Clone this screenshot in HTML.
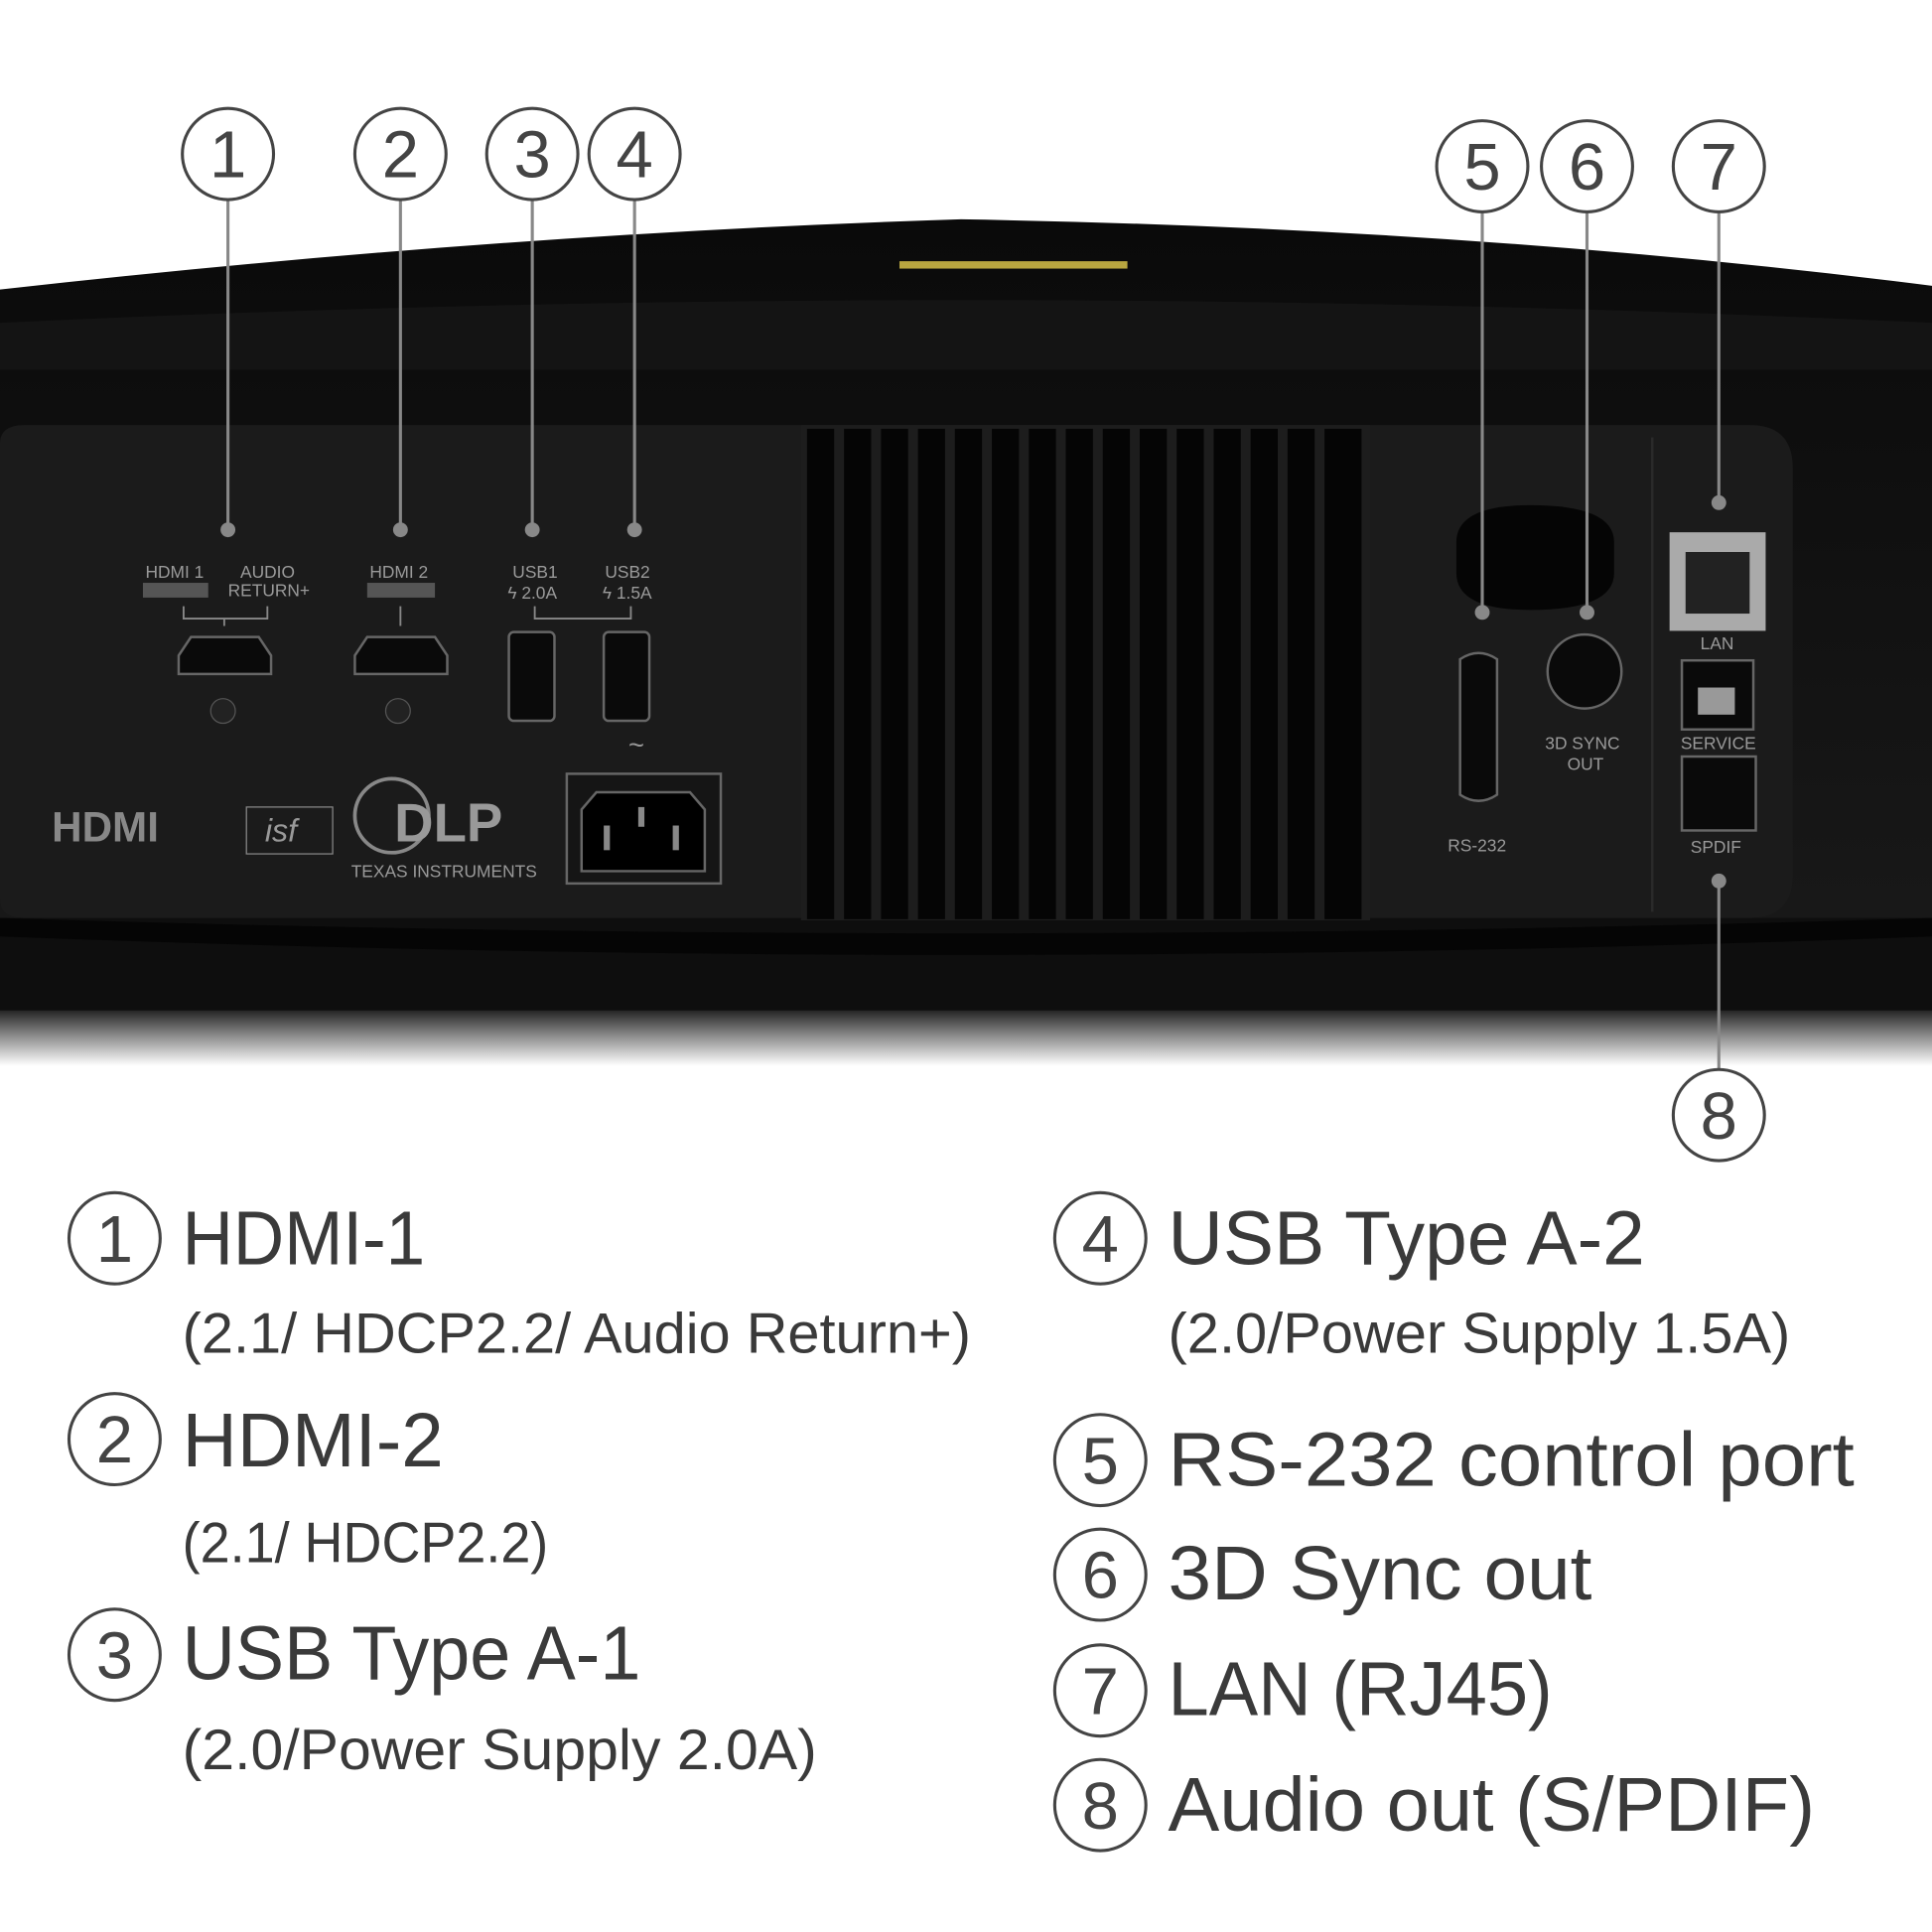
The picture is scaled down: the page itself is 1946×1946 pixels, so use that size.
<!DOCTYPE html>
<html><head><meta charset="utf-8"><style>
html,body{margin:0;padding:0;background:#fff;}
svg{display:block;}
text{font-family:"Liberation Sans",sans-serif;}
</style></head><body>
<svg width="1946" height="1946" viewBox="0 0 1568 1568" xmlns="http://www.w3.org/2000/svg">
<defs>
<linearGradient id="sh" x1="0" y1="0" x2="0" y2="1">
<stop offset="0" stop-color="#0c0c0c"/><stop offset="0.5" stop-color="#888"/><stop offset="1" stop-color="#fff"/>
</linearGradient>
<linearGradient id="top" x1="0" y1="0" x2="0" y2="1">
<stop offset="0" stop-color="#0a0a0a"/><stop offset="1" stop-color="#1a1a1a"/>
</linearGradient>
</defs>
<rect width="1568" height="1568" fill="#fff"/>
<rect x="0" y="815" width="1568" height="50" fill="url(#sh)"/>
<path d="M0 235 Q400 190 780 178 Q1200 185 1568 232 L1568 820 L0 820 Z" fill="url(#top)"/>
<path d="M0 262 Q780 225 1568 262 L1568 300 L0 300Z" fill="#141414"/>
<rect x="0" y="745" width="1568" height="75" fill="#0e0e0e"/>
<path d="M0 745 Q780 770 1568 745 L1568 760 Q780 790 0 760Z" fill="#050505"/>
<rect x="730" y="212" width="185" height="6" fill="#b8a640"/>
<path d="M0 360 Q0 345 20 345 L1420 345 Q1455 345 1455 380 L1455 710 Q1455 745 1420 745 L20 745 Q0 745 0 730Z" fill="#1b1b1b"/>
<rect x="1340" y="355" width="2" height="385" fill="#2a2a2a"/>
<rect x="650" y="345" width="462" height="402" fill="#1d1d1d"/>
<g fill="#050505">
<rect x="655" y="348" width="22" height="398"/><rect x="685" y="348" width="22" height="398"/><rect x="715" y="348" width="22" height="398"/><rect x="745" y="348" width="22" height="398"/><rect x="775" y="348" width="22" height="398"/><rect x="805" y="348" width="22" height="398"/><rect x="835" y="348" width="22" height="398"/><rect x="865" y="348" width="22" height="398"/><rect x="895" y="348" width="22" height="398"/><rect x="925" y="348" width="22" height="398"/><rect x="955" y="348" width="22" height="398"/><rect x="985" y="348" width="22" height="398"/><rect x="1015" y="348" width="22" height="398"/><rect x="1045" y="348" width="22" height="398"/><rect x="1075" y="348" width="30" height="398"/>
</g>
<g fill="#9a9a9a" font-size="14">
<text x="118" y="469">HDMI 1</text><text x="195" y="469">AUDIO</text><text x="185" y="484">RETURN+</text>
<text x="300" y="469">HDMI 2</text>
<text x="416" y="469">USB1</text><text x="412" y="486">ϟ 2.0A</text>
<text x="491" y="469">USB2</text><text x="489" y="486">ϟ 1.5A</text>
<text x="1254" y="608">3D SYNC</text><text x="1272" y="625">OUT</text>
<text x="1175" y="691">RS-232</text>
<text x="1380" y="527">LAN</text>
<text x="1364" y="608">SERVICE</text>
<text x="1372" y="692">SPDIF</text>
<text x="285" y="712" font-size="14">TEXAS INSTRUMENTS</text>
</g>
<rect x="116" y="473" width="53" height="12" fill="#555"/><rect x="298" y="473" width="55" height="12" fill="#555"/>
<g stroke="#888" fill="none" stroke-width="1.5">
<path d="M149 492v10h68v-10M182 502v6"/><path d="M325 492v16"/><path d="M434 492v10h78v-10"/>
</g>
<g fill="#0a0a0a" stroke="#666" stroke-width="2">
<path d="M145 532l10-15h55l10 15v15h-75z"/><path d="M288 532l10-15h55l10 15v15h-75z"/>
<rect x="413" y="513" width="37" height="72" rx="4"/><rect x="490" y="513" width="37" height="72" rx="4"/>
<rect x="460" y="628" width="125" height="89" fill="#151515"/>
<path d="M484 643h76l12 14v50h-100v-50z" fill="#000"/>
<path d="M1185 535q15-10 30 0v110q-15 10-30 0z"/>
<circle cx="1286" cy="545" r="30"/>
<rect x="1365" y="536" width="58" height="56"/>
<rect x="1365" y="614" width="60" height="60"/>
</g>
<g fill="#888"><rect x="490" y="670" width="5" height="20"/><rect x="546" y="670" width="5" height="20"/><rect x="518" y="655" width="5" height="16"/></g>
<circle cx="181" cy="577" r="10" fill="#222" stroke="#555"/><circle cx="323" cy="577" r="10" fill="#222" stroke="#555"/>
<rect x="1355" y="432" width="78" height="80" fill="#aaa"/><rect x="1368" y="448" width="52" height="50" fill="#222"/>
<rect x="1378" y="558" width="30" height="22" fill="#999"/>
<path d="M1182 440q0-30 60-30q68 0 68 30v25q0 30-68 30q-60 0-60-30z" fill="#050505"/>
<text x="42" y="683" fill="#888" font-size="34" font-weight="bold">HDMI</text>
<rect x="200" y="655" width="70" height="38" fill="none" stroke="#888"/><text x="215" y="683" fill="#999" font-size="26" font-style="italic" font-family="Liberation Serif">isf</text>
<circle cx="318" cy="662" r="30" fill="none" stroke="#888" stroke-width="3"/><text x="320" y="683" fill="#999" font-size="44" font-weight="bold">DLP</text>
<text x="510" y="612" fill="#999" font-size="22">~</text>
<g stroke="#888" stroke-width="2.5">
<line x1="185" y1="163" x2="185" y2="430"/><line x1="325" y1="163" x2="325" y2="430"/>
<line x1="432" y1="163" x2="432" y2="430"/><line x1="515" y1="163" x2="515" y2="430"/>
<line x1="1203" y1="173" x2="1203" y2="497"/><line x1="1288" y1="173" x2="1288" y2="497"/>
<line x1="1395" y1="173" x2="1395" y2="408"/><line x1="1395" y1="715" x2="1395" y2="867"/>
</g>
<g fill="#888"><circle cx="185" cy="430" r="6"/><circle cx="325" cy="430" r="6"/><circle cx="432" cy="430" r="6"/><circle cx="515" cy="430" r="6"/><circle cx="1203" cy="497" r="6"/><circle cx="1288" cy="497" r="6"/><circle cx="1395" cy="408" r="6"/><circle cx="1395" cy="715" r="6"/></g>
<g fill="#fff" stroke="#444" stroke-width="2.5">
<circle cx="185" cy="125" r="37"/><circle cx="325" cy="125" r="37"/><circle cx="432" cy="125" r="37"/><circle cx="515" cy="125" r="37"/>
<circle cx="1203" cy="135" r="37"/><circle cx="1288" cy="135" r="37"/><circle cx="1395" cy="135" r="37"/><circle cx="1395" cy="905" r="37"/>
<circle cx="93" cy="1005" r="37"/><circle cx="93" cy="1168" r="37"/><circle cx="93" cy="1343" r="37"/>
<circle cx="893" cy="1005" r="37"/><circle cx="893" cy="1185" r="37"/><circle cx="893" cy="1278" r="37"/><circle cx="893" cy="1372" r="37"/><circle cx="893" cy="1465" r="37"/>
</g>
<g fill="#444" font-size="54" text-anchor="middle">
<text x="185" y="144">1</text><text x="325" y="144">2</text><text x="432" y="144">3</text><text x="515" y="144">4</text>
<text x="1203" y="154">5</text><text x="1288" y="154">6</text><text x="1395" y="154">7</text><text x="1395" y="924">8</text>
<text x="93" y="1024">1</text><text x="93" y="1187">2</text><text x="93" y="1362">3</text>
<text x="893" y="1024">4</text><text x="893" y="1204">5</text><text x="893" y="1297">6</text><text x="893" y="1391">7</text><text x="893" y="1484">8</text>
</g>
<g fill="#3a3a3a">
<text x="148" y="1026" font-size="62" textLength="197" lengthAdjust="spacingAndGlyphs">HDMI-1</text>
<text x="148" y="1098" font-size="46" textLength="640" lengthAdjust="spacingAndGlyphs">(2.1/ HDCP2.2/ Audio Return+)</text>
<text x="148" y="1190" font-size="62" textLength="212" lengthAdjust="spacingAndGlyphs">HDMI-2</text>
<text x="148" y="1268" font-size="46" textLength="297" lengthAdjust="spacingAndGlyphs">(2.1/ HDCP2.2)</text>
<text x="148" y="1363" font-size="62" textLength="372" lengthAdjust="spacingAndGlyphs">USB Type A-1</text>
<text x="148" y="1436" font-size="46" textLength="515" lengthAdjust="spacingAndGlyphs">(2.0/Power Supply 2.0A)</text>
<text x="948" y="1026" font-size="62" textLength="387" lengthAdjust="spacingAndGlyphs">USB Type A-2</text>
<text x="948" y="1098" font-size="46" textLength="505" lengthAdjust="spacingAndGlyphs">(2.0/Power Supply 1.5A)</text>
<text x="948" y="1206" font-size="62" textLength="557" lengthAdjust="spacingAndGlyphs">RS-232 control port</text>
<text x="948" y="1298" font-size="62" textLength="344" lengthAdjust="spacingAndGlyphs">3D Sync out</text>
<text x="948" y="1392" font-size="62" textLength="312" lengthAdjust="spacingAndGlyphs">LAN (RJ45)</text>
<text x="948" y="1486" font-size="62" textLength="525" lengthAdjust="spacingAndGlyphs">Audio out (S/PDIF)</text>
</g>
</svg>
</body></html>
